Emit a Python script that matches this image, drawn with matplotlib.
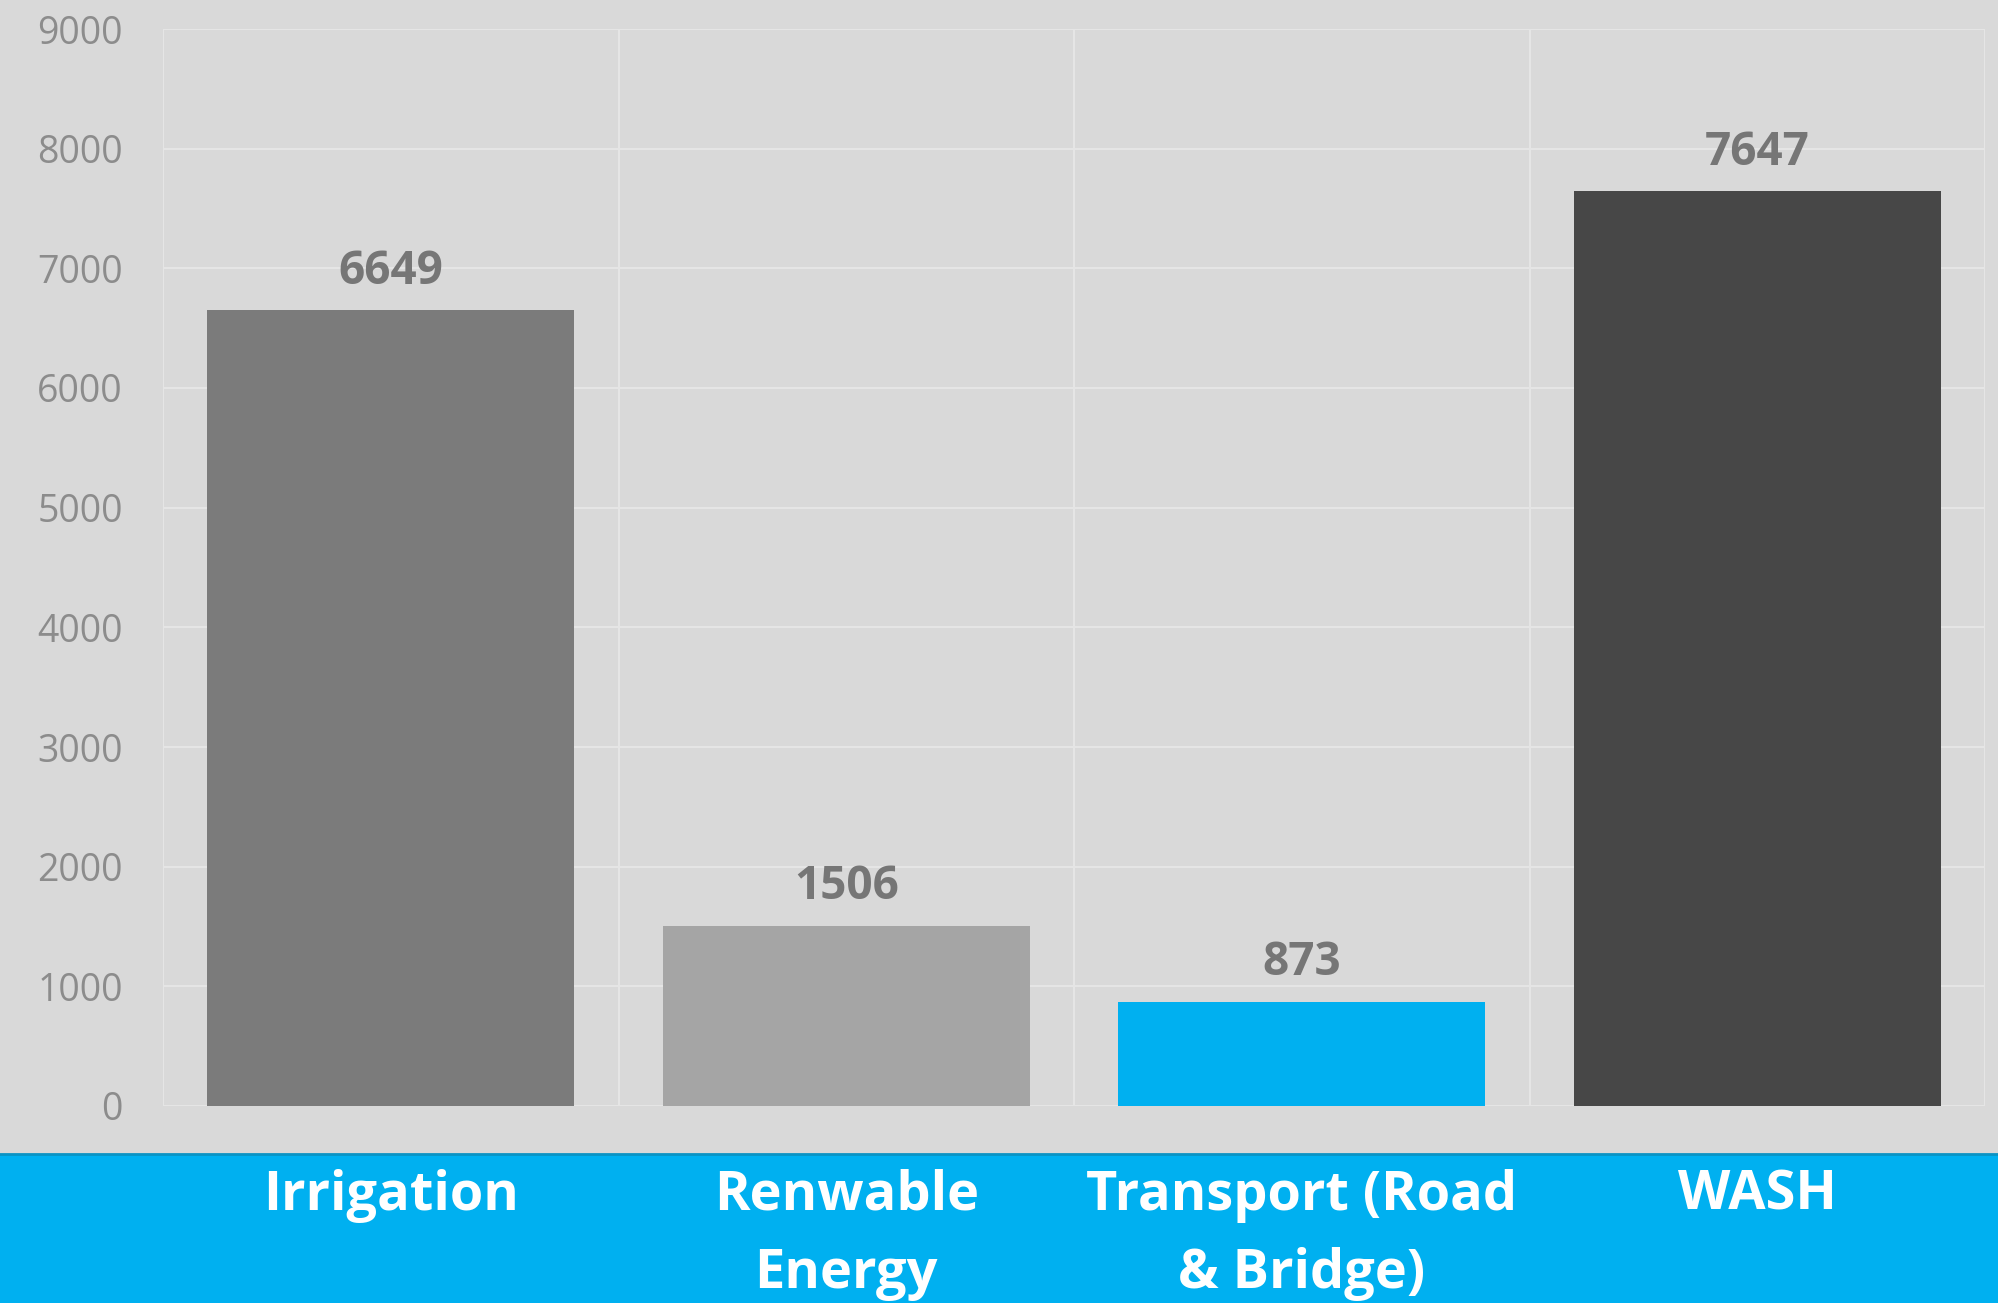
import matplotlib
matplotlib.use("Agg")
import matplotlib.pyplot as plt
from matplotlib.patches import Rectangle
from matplotlib.transforms import blended_transform_factory

categories = ["Irrigation", "Renwable\nEnergy", "Transport (Road\n& Bridge)", "WASH"]
values = [6649, 1506, 873, 7647]
bar_colors = ["#7B7B7B", "#A5A5A5", "#00B0F0", "#474747"]
yticks = [0, 1000, 2000, 3000, 4000, 5000, 6000, 7000, 8000, 9000]

plt.rcParams['font.family'] = ['Open Sans', 'DejaVu Sans']

W, H = 1998, 1303
fig = plt.figure(figsize=(W / 100, H / 100), dpi=100)
fig.patch.set_facecolor("#D9D9D9")

# blue band at bottom
band_top = (H - 1154) / H
fig.patches.append(Rectangle((0, 0), 1, band_top, transform=fig.transFigure,
                             facecolor="#00B0F0", edgecolor="none", zorder=-2))
fig.lines.append(plt.Line2D([0, 1], [band_top, band_top], transform=fig.transFigure,
                            color="#0A93C4", lw=2, zorder=-1))

left, right = 163 / W, 1985 / W
bottom, top = (H - 1106) / H, (H - 29) / H
ax = fig.add_axes([left, bottom, right - left, top - bottom])
ax.set_facecolor("#D9D9D9")

x = list(range(len(categories)))
ax.bar(x, values, width=0.806, color=bar_colors, zorder=3)
ax.set_xlim(-0.5, len(categories) - 0.5)
ax.set_ylim(0, 9000)
ax.set_yticks(yticks)
ax.set_yticklabels([str(t) for t in yticks], fontsize=27, color="#8C8C8C")
ax.tick_params(axis='y', length=0, pad=29)
ax.set_xticks([])

for yt in yticks:
    ax.axhline(yt, color="#E5E5E5", lw=1.5, zorder=1)
for b in [i - 0.5 for i in range(len(categories) + 1)]:
    ax.axvline(b, color="#E5E5E5", lw=1.5, zorder=1)
for s in ax.spines.values():
    s.set_visible(False)

for xi, v in zip(x, values):
    ax.annotate(str(v), (xi, v), xytext=(0, 19), textcoords="offset points",
                ha="center", va="baseline", fontsize=33, fontweight="bold",
                color="#767676")

trans = blended_transform_factory(ax.transData, fig.transFigure)
for xi, c in zip(x, categories):
    fig.text(xi, (H - 1169) / H, c, transform=trans, ha="center", va="top",
             fontsize=39, fontweight="bold", color="white", linespacing=1.58,
             zorder=5)

fig.savefig("out.png", dpi=100, facecolor=fig.get_facecolor())
